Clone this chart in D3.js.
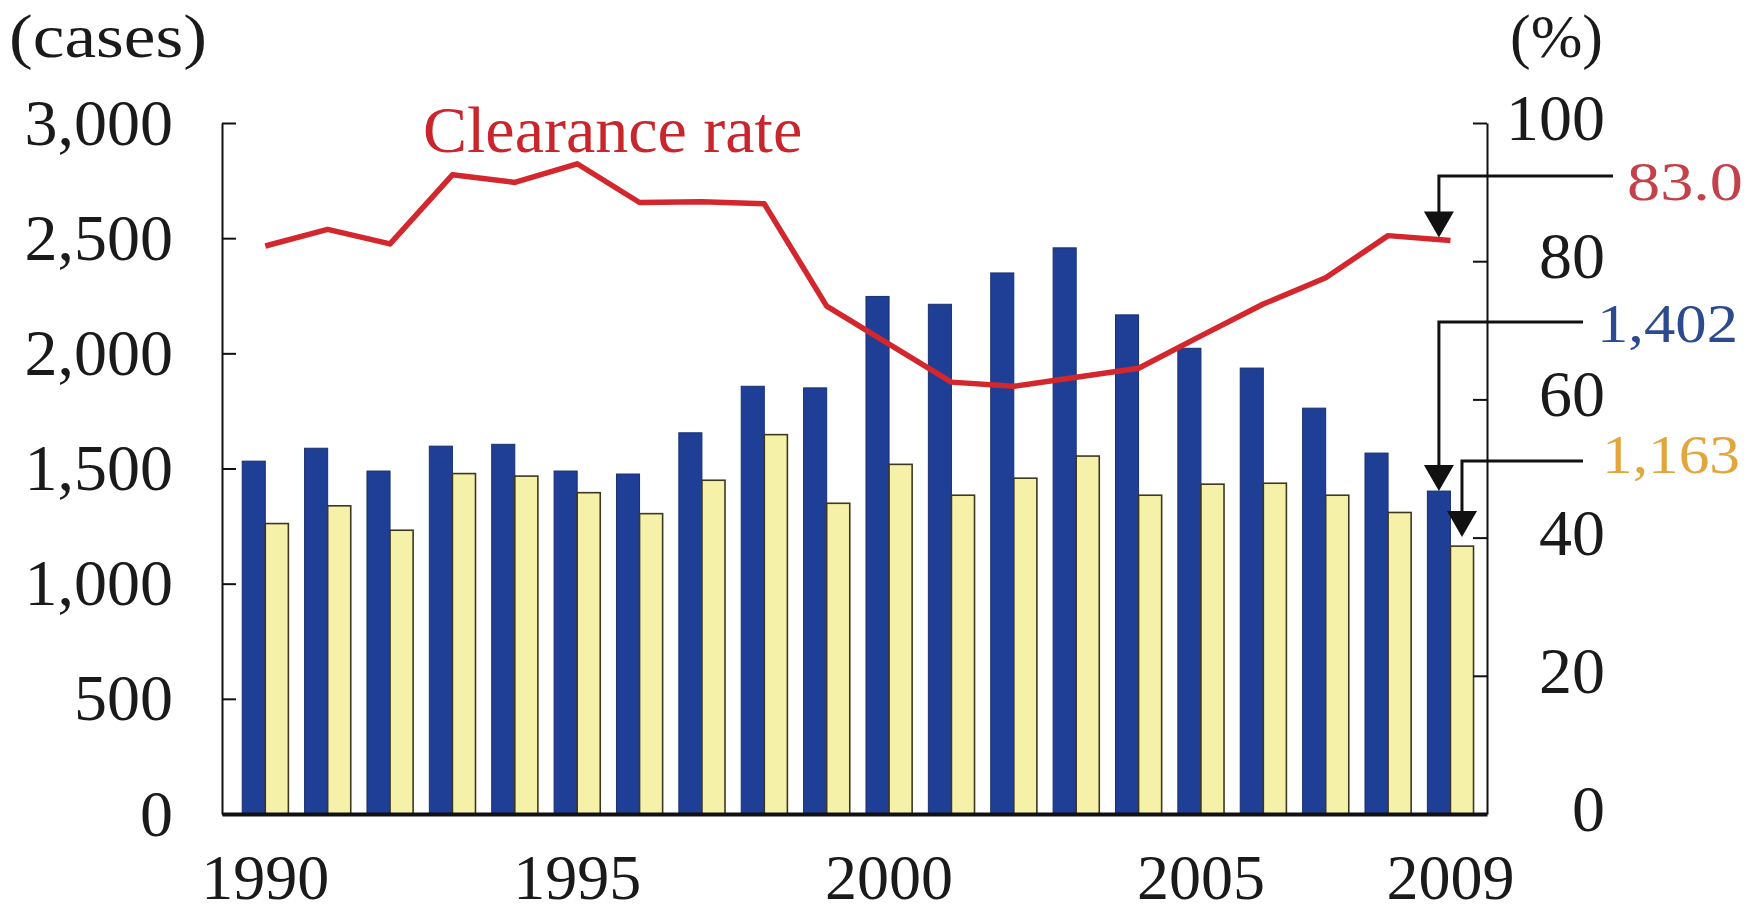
<!DOCTYPE html>
<html>
<head>
<meta charset="utf-8">
<script src="https://cdn.jsdelivr.net/npm/d3@7/dist/d3.min.js"></script>
<style>
body { margin: 0; background: #fff; }
svg text { font-family: "Liberation Serif", "Times New Roman", serif; fill: #1a1a1a; }
.axis .domain, .axis line { stroke: #111; }
</style>
</head>
<body>
<svg width="1755" height="915"></svg>
<script>
// data
var years = [1990, 1991, 1992, 1993, 1994, 1995, 1996, 1997, 1998, 1999,
             2000, 2001, 2002, 2003, 2004, 2005, 2006, 2007, 2008, 2009];
var recognized = [1532, 1588, 1489, 1597, 1605, 1489, 1476, 1655, 1857, 1850,
                  2247, 2213, 2349, 2458, 2167, 2022, 1936, 1762, 1567, 1402];
var cleared = [1261, 1338, 1232, 1478, 1467, 1395, 1304, 1449, 1647, 1349,
               1518, 1384, 1458, 1554, 1384, 1432, 1436, 1384, 1309, 1163];
var clearanceRate = [82.2, 84.6, 82.5, 92.5, 91.4, 94.1, 88.5, 88.6, 88.3, 73.5,
                     68.0, 62.5, 61.9, 63.2, 64.5, 69.2, 73.8, 77.6, 83.7, 83.0];
var leftTicks = [0, 500, 1000, 1500, 2000, 2500, 3000];
var rightTicks = [0, 20, 40, 60, 80, 100];
var yearLabels = [1990, 1995, 2000, 2005, 2009];

var svg = d3.select("svg"),
    margin = {top: 123, right: 268, bottom: 101, left: 222},
    width = +svg.attr("width") - margin.left - margin.right,
    height = +svg.attr("height") - margin.top - margin.bottom;

var x = d3.scaleBand().domain(years).range([0, width])
    .paddingInner(0.26).paddingOuter(0.27).align(0.6);
var x1 = d3.scaleBand().domain(["recognized", "cleared"]).range([0, x.bandwidth()]);
var y = d3.scaleLinear().domain([0, 3000]).range([height, 0]);
var y2 = d3.scaleLinear().domain([0, 100]).range([height, 0]);

var g = svg.append("g")
    .attr("transform", "translate(" + margin.left + "," + margin.top + ")");

var data = years.map(function(yr, i) {
    return {year: yr, recognized: recognized[i], cleared: cleared[i], rate: clearanceRate[i]};
});

// bars
var groups = g.selectAll(".year").data(data).enter().append("g")
    .attr("transform", function(d) { return "translate(" + x(d.year) + ",0)"; });

groups.append("rect")
    .attr("x", x1("recognized"))
    .attr("y", function(d) { return y(d.recognized); })
    .attr("width", x1.bandwidth())
    .attr("height", function(d) { return height - y(d.recognized); })
    .attr("fill", "#1f3f97")
    .attr("stroke", "#17306f")
    .attr("stroke-width", 1);

groups.append("rect")
    .attr("x", x1("cleared"))
    .attr("y", function(d) { return y(d.cleared); })
    .attr("width", x1.bandwidth())
    .attr("height", function(d) { return height - y(d.cleared); })
    .attr("fill", "#f6f1a9")
    .attr("stroke", "#3d3820")
    .attr("stroke-width", 1.6);

// axes
var yAxis = d3.axisLeft(y).tickValues(leftTicks).tickFormat(d3.format(","))
    .tickSizeInner(-14).tickSizeOuter(0).tickPadding(49);
var yAxisGroup = g.append("g").attr("class", "axis").call(yAxis);
yAxisGroup.select(".domain").attr("stroke-width", 2);
yAxisGroup.selectAll("line").attr("stroke-width", 2);
yAxisGroup.selectAll("text").style("font-size", "66px");

var yAxis2 = d3.axisRight(y2).tickValues(rightTicks)
    .tickSizeInner(-14).tickSizeOuter(0);
var yAxisGroup2 = g.append("g").attr("class", "axis")
    .attr("transform", "translate(" + width + ",0)").call(yAxis2);
yAxisGroup2.select(".domain").attr("stroke-width", 2);
yAxisGroup2.selectAll("line").attr("stroke-width", 2);
yAxisGroup2.selectAll("text").style("font-size", "66px")
    .attr("text-anchor", "end").attr("x", 118).attr("dy", "0.25em");

var xAxis = d3.axisBottom(x).tickValues(yearLabels).tickSize(0).tickPadding(40);
var xAxisGroup = g.append("g").attr("class", "axis")
    .attr("transform", "translate(0," + height + ")").call(xAxis);
xAxisGroup.select(".domain").attr("stroke", "#15183a").attr("stroke-width", 4);
xAxisGroup.selectAll("text").style("font-size", "64px");

// clearance rate line
var line = d3.line()
    .x(function(d) { return x(d.year) + x.bandwidth() / 2; })
    .y(function(d) { return y2(d.rate); });

g.append("path")
    .datum(data)
    .attr("fill", "none")
    .attr("stroke", "#d3262d")
    .attr("stroke-width", 5.5)
    .attr("stroke-linejoin", "round")
    .attr("d", line);

// titles
svg.append("text").attr("x", 9).attr("y", 57)
    .attr("textLength", 198).attr("lengthAdjust", "spacingAndGlyphs")
    .style("font-size", "62px").text("(cases)");
svg.append("text").attr("x", 1603).attr("y", 57).attr("text-anchor", "end")
    .style("font-size", "62px").text("(%)");
svg.append("text").attr("x", 423).attr("y", 152)
    .style("font-size", "66px").style("fill", "#c9252c").text("Clearance rate");

// callouts for 2009
var last = data[data.length - 1];
var callouts = [
    {text: d3.format(".1f")(last.rate), color: "#c2414b", bx: x1("recognized"),
     tip: y2(last.rate) - 3, elbow: 53, end: 1613, tx: 1627, ty: 200, tl: 116},
    {text: d3.format(",")(last.recognized), color: "#2c4b8e", bx: x1("recognized"),
     tip: y(last.recognized), elbow: 199, end: 1583, tx: 1597, ty: 342, tl: 141},
    {text: d3.format(",")(last.cleared), color: "#e2a63c", bx: x1("cleared"),
     tip: y(last.cleared) - 9, elbow: 338, end: 1583, tx: 1602, ty: 473, tl: 138}
];

callouts.forEach(function(c) {
    var ax = x(last.year) + c.bx + x1.bandwidth() / 2;
    var headW = 30, headH = 26;
    g.append("path")
        .attr("d", "M" + (c.end - margin.left) + "," + c.elbow + "H" + ax + "V" + (c.tip - headH + 2))
        .attr("fill", "none").attr("stroke", "#111").attr("stroke-width", 3);
    g.append("path")
        .attr("d", "M" + (ax - headW / 2) + "," + (c.tip - headH) + "L" + (ax + headW / 2) + "," + (c.tip - headH) +
            "L" + ax + "," + c.tip + "Z")
        .attr("fill", "#111");
    svg.append("text").attr("x", c.tx).attr("y", c.ty)
        .attr("textLength", c.tl).attr("lengthAdjust", "spacingAndGlyphs")
        .style("font-size", "54px").style("fill", c.color).text(c.text);
});
</script>
</body>
</html>
